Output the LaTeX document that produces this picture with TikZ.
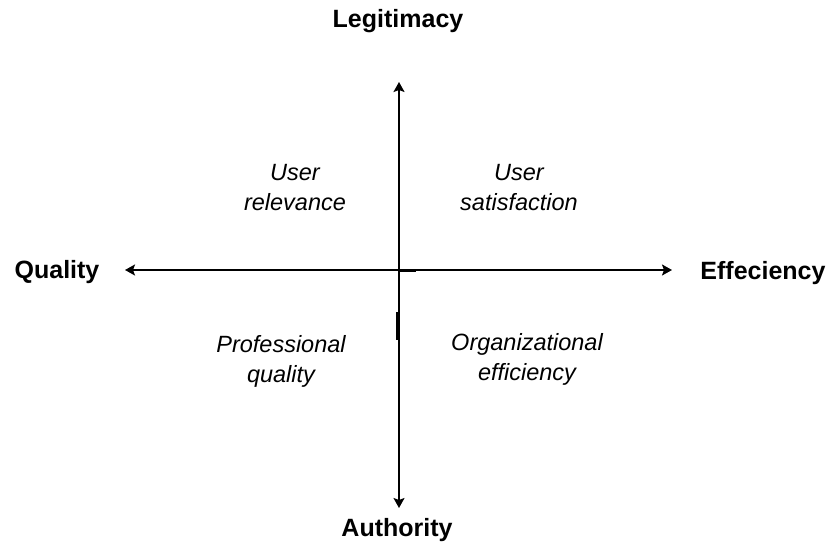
\documentclass[tikz,border=0pt]{standalone}
\usepackage{fontspec}
\setmainfont{Liberation Sans}
\usetikzlibrary{arrows.meta}

\begin{document}
\begin{tikzpicture}[x=1pt, y=-1pt, >={Stealth[length=10pt, width=11pt, inset=2pt]}, line width=1.8pt,
    axislabel/.style={font=\fontsize{25}{29}\selectfont\bfseries},
    quadlabel/.style={font=\fontsize{23.5}{30}\selectfont\itshape, align=center}]
    \useasboundingbox (0,0) rectangle (826,545);

    % 1. axis ends
    \coordinate (top) at (399,82);
    \coordinate (bottom) at (399,508);
    \coordinate (left) at (125,270);
    \coordinate (right) at (672,270);

    % 2. axes
    \draw[<->] (bottom) -- (top);
    \draw[<->] (left) -- (right);
    \draw[line width=2.2pt] (399,271) -- (416,271);
    \draw[line width=2.2pt] (397.5,312) -- (397.5,340);

    % 3. axis labels
    \node[axislabel] (legit) at (398,21) {Legitimacy};
    \node[axislabel] (auth) at (397,530) {Authority};
    \node[axislabel] (qual) at (57,272) {Quality};
    \node[axislabel] (eff) at (763,273) {Effeciency};

    % 4. quadrants
    \node[quadlabel] (userrel) at (295,188) {User\\relevance};
    \node[quadlabel] (usersat) at (519,188) {User\\satisfaction};
    \node[quadlabel] (profq) at (281,361) {Professional\\quality};
    \node[quadlabel] (orgeff) at (527,359) {Organizational\\efficiency};
\end{tikzpicture}
\end{document}
